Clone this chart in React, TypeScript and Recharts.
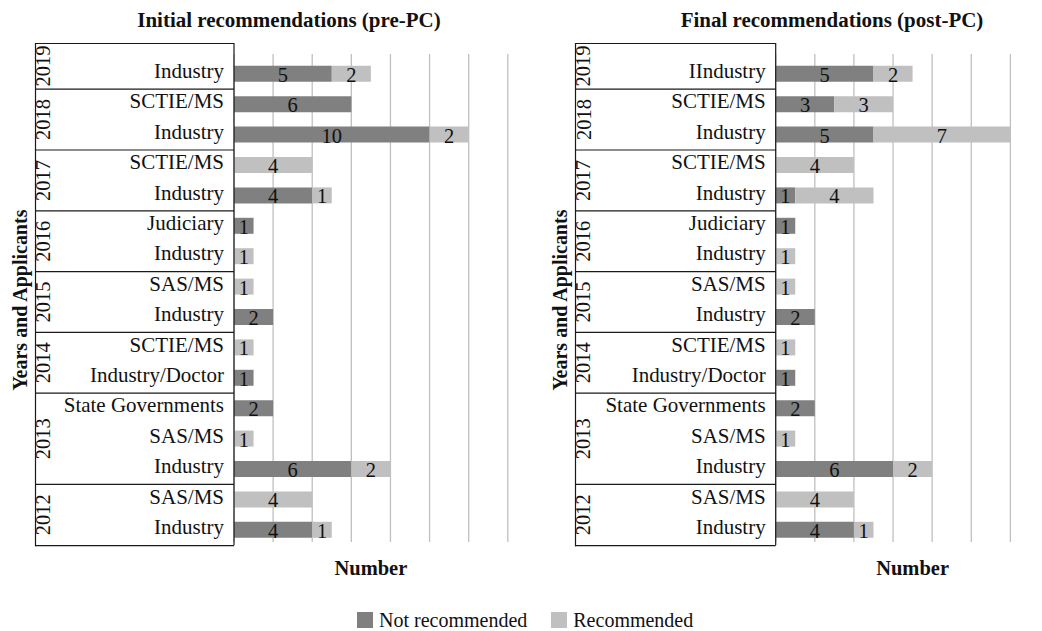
import React from 'react';
import { BarChart, Bar, XAxis, YAxis, LabelList, Label, CartesianGrid } from 'recharts';

// ---------- data ----------
const YEARS = ['2019', '2018', '2018', '2017', '2017', '2016', '2016', '2015', '2015', '2014', '2014', '2013', '2013', '2013', '2012', '2012'];
const APPLICANTS_INITIAL = ['Industry', 'SCTIE/MS', 'Industry', 'SCTIE/MS', 'Industry', 'Judiciary', 'Industry', 'SAS/MS', 'Industry', 'SCTIE/MS', 'Industry/Doctor', 'State Governments', 'SAS/MS', 'Industry', 'SAS/MS', 'Industry'];
const APPLICANTS_FINAL = ['IIndustry', 'SCTIE/MS', 'Industry', 'SCTIE/MS', 'Industry', 'Judiciary', 'Industry', 'SAS/MS', 'Industry', 'SCTIE/MS', 'Industry/Doctor', 'State Governments', 'SAS/MS', 'Industry', 'SAS/MS', 'Industry'];
const NOT_REC_INITIAL = [5, 6, 10, 0, 4, 1, 0, 0, 2, 0, 1, 2, 0, 6, 0, 4];
const REC_INITIAL = [2, 0, 2, 4, 1, 0, 1, 1, 0, 1, 0, 0, 1, 2, 4, 1];
const NOT_REC_FINAL = [5, 3, 5, 0, 1, 1, 0, 0, 2, 0, 1, 2, 0, 6, 0, 4];
const REC_FINAL = [2, 3, 7, 4, 4, 0, 1, 1, 0, 1, 0, 0, 1, 2, 4, 1];
const X_TICKS = [0, 2, 4, 6, 8, 10, 12, 14];
const SERIES = [
  { key: 'nr', name: 'Not recommended', color: '#808080' },
  { key: 'r', name: 'Recommended', color: '#c0c0c0' },
];
const TITLES = ['Initial recommendations (pre-PC)', 'Final recommendations (post-PC)'];
const Y_TITLE = 'Years and Applicants';
const X_TITLE = 'Number';

// ---------- layout ----------
const FONT = '"Liberation Serif", "Times New Roman", serif';
const PLOT_TOP = 43;
const PAD_TOP = 15.8;
const BAND = 30.4;
const PLOT_BOTTOM = PLOT_TOP + PAD_TOP + BAND * YEARS.length;
const X_AXIS_H = 40;
const CHART_H = PLOT_BOTTOM + X_AXIS_H;
const BOX_LEFT = 35;
const PLOT_W = 273.8;
const LINE = '#1a1a1a';
const GRID_TOP = 54;
const GRID_BOTTOM = 542;
const LABEL_FS = 21;

function buildRows(applicants: string[], nr: number[], r: number[]) {
  return YEARS.map((y, i) => ({ key: `${y}|${i}|${applicants[i]}`, nr: nr[i], r: r[i] }));
}

function makeTick(applicants: string[], keys: string[], yW: number, title: string, titleX: number) {
  return (props: any) => {
    const { y, payload } = props;
    const i = keys.indexOf(payload.value);
    if (i < 0) return null;
    const els: React.ReactNode[] = [];
    const right = BOX_LEFT + yW;
    els.push(
      <text key="lab" x={right - 10} y={y - 3} textAnchor="end" dominantBaseline="central" fontSize={LABEL_FS} fontFamily={FONT} fill="#111">
        {applicants[i]}
      </text>
    );
    const first = i === 0 || YEARS[i] !== YEARS[i - 1];
    if (first) {
      let n = 1;
      while (i + n < YEARS.length && YEARS[i + n] === YEARS[i]) n++;
      const top = i === 0 ? PLOT_TOP : y - BAND / 2;
      const bottom = y + (n - 1) * BAND + BAND / 2;
      if (i > 0) {
        els.push(<line key="sep" x1={BOX_LEFT} x2={right} y1={top} y2={top} stroke={LINE} strokeWidth={1.2} />);
      }
      const cy = (top + bottom) / 2;
      els.push(
        <text key="yr" x={BOX_LEFT + 8.5} y={cy} transform={`rotate(-90 ${BOX_LEFT + 8.5} ${cy})`} textAnchor="middle" dominantBaseline="central" fontSize={20.5} fontFamily={FONT} fill="#111">
          {YEARS[i]}
        </text>
      );
    }
    if (i === 0) {
      els.push(<line key="bt" x1={BOX_LEFT} x2={right} y1={PLOT_TOP + 0.5} y2={PLOT_TOP + 0.5} stroke={LINE} strokeWidth={1.2} />);
      els.push(<line key="bl" x1={BOX_LEFT + 0.5} x2={BOX_LEFT + 0.5} y1={PLOT_TOP} y2={PLOT_BOTTOM + 1} stroke={LINE} strokeWidth={1.2} />);
      els.push(<line key="bb" x1={BOX_LEFT} x2={right} y1={PLOT_BOTTOM + 0.5} y2={PLOT_BOTTOM + 0.5} stroke={LINE} strokeWidth={1.2} />);
      const ty = (PLOT_TOP + PLOT_BOTTOM) / 2 + 6;
      els.push(
        <text key="yt" x={20} y={ty} transform={`rotate(-90 20 ${ty})`} textAnchor="middle" dominantBaseline="central" fontSize={20} fontWeight="bold" fontFamily={FONT} fill="#111">
          {Y_TITLE}
        </text>
      );
      els.push(
        <text key="tt" x={titleX} y={20.5} textAnchor="middle" dominantBaseline="central" fontSize={21} fontWeight="bold" fontFamily={FONT} fill="#111">
          {title}
        </text>
      );
    }
    return <g>{els}</g>;
  };
}

const renderValue = (props: any) => {
  const { x, y, width, height, value } = props;
  if (!value) return null;
  return (
    <text x={Number(x) + Number(width) / 2} y={Number(y) + Number(height) / 2 + 1} textAnchor="middle" dominantBaseline="central" fontSize={20.5} fontFamily={FONT} fill="#111">
      {value}
    </text>
  );
};

const renderXTitle = (props: any) => {
  const vb = props.viewBox || {};
  return (
    <text x={vb.x + vb.width / 2} y={vb.y + 23} textAnchor="middle" dominantBaseline="central" fontSize={20.5} fontWeight="bold" fontFamily={FONT} fill="#111">
      {X_TITLE}
    </text>
  );
};

const emptyTick = () => <g />;

function Panel({ pageLeft, yW, applicants, nr, r, title, titleX }: any) {
  const data = buildRows(applicants, nr, r);
  const keys = data.map((d) => d.key);
  const width = BOX_LEFT + yW + PLOT_W + 10;
  return (
    <div style={{ position: 'absolute', left: pageLeft, top: 0 }}>
      <BarChart
        width={width}
        height={CHART_H}
        data={data}
        layout="vertical"
        margin={{ top: PLOT_TOP, right: 10, bottom: 0, left: BOX_LEFT }}
        barSize={16}
      >
        <CartesianGrid
          horizontal={false}
          stroke="#c0c0c0"
          strokeWidth={1.3}
          y={GRID_TOP}
          height={GRID_BOTTOM - GRID_TOP}
        />
        <XAxis type="number" domain={[0, 14]} ticks={X_TICKS} interval={0} tick={emptyTick} tickLine={false} axisLine={false} height={X_AXIS_H}>
          <Label content={renderXTitle} />
        </XAxis>
        <YAxis
          type="category"
          dataKey="key"
          width={yW}
          interval={0}
          tickLine={false}
          axisLine={{ stroke: LINE, strokeWidth: 1.2 }}
          padding={{ top: PAD_TOP, bottom: 0 }}
          tick={makeTick(applicants, keys, yW, title, titleX)}
        />
        {SERIES.map((s) => (
          <Bar key={s.key} dataKey={s.key} name={s.name} stackId="a" fill={s.color} isAnimationActive={false}>
            <LabelList dataKey={s.key} content={renderValue} />
          </Bar>
        ))}
      </BarChart>
    </div>
  );
}

export default function App() {
  return (
    <div style={{ position: 'absolute', left: 0, top: 0, width: 1042, height: 631, overflow: 'hidden', background: '#fff', fontFamily: FONT }}>
      <Panel pageLeft={0} yW={199} applicants={APPLICANTS_INITIAL} nr={NOT_REC_INITIAL} r={REC_INITIAL} title={TITLES[0]} titleX={289} />
      <Panel pageLeft={540} yW={200.7} applicants={APPLICANTS_FINAL} nr={NOT_REC_FINAL} r={REC_FINAL} title={TITLES[1]} titleX={292} />
      <div style={{ position: 'absolute', left: 357, top: 608, height: 24, display: 'flex', alignItems: 'center', fontSize: 20, color: '#111', whiteSpace: 'nowrap' }}>
        {SERIES.map((s, k) => (
          <div key={s.key} style={{ display: 'flex', alignItems: 'center', marginRight: k === 0 ? 24 : 0 }}>
            <div style={{ width: 16, height: 16, background: s.color, marginRight: 6 }} />
            <span>{s.name}</span>
          </div>
        ))}
      </div>
    </div>
  );
}
